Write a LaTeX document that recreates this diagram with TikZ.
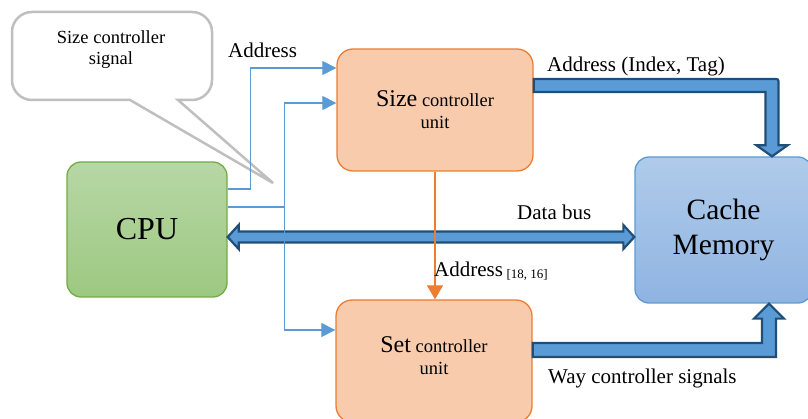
\documentclass[tikz,border=0pt]{standalone}
\usepackage{fontspec}
\setmainfont{Liberation Serif}
\usetikzlibrary{arrows.meta,calc}
\definecolor{uc}{RGB}{248,203,173}
\definecolor{ud}{RGB}{237,125,49}
\definecolor{gt}{RGB}{183,215,165}
\definecolor{gb}{RGB}{157,200,129}
\definecolor{gd}{RGB}{112,173,71}
\definecolor{bt}{RGB}{176,203,234}
\definecolor{bb}{RGB}{143,180,226}
\definecolor{bd}{RGB}{91,155,213}
\definecolor{ad}{RGB}{31,78,121}
\definecolor{cg}{RGB}{191,191,191}
\newcommand{\fsz}[2]{\fontsize{#1}{#2}\selectfont}
\tikzset{unit/.style={draw=ud,fill=uc,line width=1.3pt,rounded corners=16pt,minimum width=196pt,minimum height=122pt,align=center,font=\fsz{18.5}{22}},
 blk/.style={line width=1.3pt,rounded corners=14pt,align=center},
 wire/.style={draw=bd,line width=1.1pt,-{Triangle[length=14pt,width=14pt]}},
 owire/.style={draw=ud,line width=1.3pt,-{Triangle[length=14pt,width=16pt]}},
 bus/.style={draw=ad,fill=bd,line width=2.2pt,line join=miter},
 lab/.style={anchor=base west,inner sep=0pt,font=\fsz{21}{24}}}
\begin{document}
\begin{tikzpicture}[x=1pt,y=-1pt]
\useasboundingbox (0,0) rectangle (808,419);
\coordinate (tip) at (273,183);
\draw[cg,line width=2.5pt,fill=white] (130,100) -- (tip) -- (178,100) [rounded corners=20pt] -- (212,100) -- (212,12) -- (12,12) -- (12,100) [sharp corners] -- (130,100) -- cycle;
\node[font=\fsz{18.5}{21},align=center] (bt) at (111,50) {Size controller\\signal};
\node[blk,draw=gd,top color=gt,bottom color=gb,minimum width=160pt,minimum height=135pt,font=\fsz{32}{36}] (cpu) at (147,229.5) {CPU};
\node[unit] (size) at (435,110) {{\fsz{24}{22}Size} controller\\unit};
\node[unit,text depth=10pt] (set) at (434,361) {{\fsz{24}{22}Set} controller\\unit};
\node[blk,draw=bd,top color=bt,bottom color=bb,minimum width=177pt,minimum height=146pt,font=\fsz{29.5}{35}] (cache) at (723.5,230) {Cache\\Memory};
\coordinate (busL) at ($(cpu.east)+(0,7.5)$);\coordinate (busR) at (cache.west|-busL);
\draw[bus] (busL) -- ++(11,-12) -- ++(0,6.5) -- ($(busR)+(-11,-5.5)$) -- ++(0,-6.5) -- (busR) -- ++(-11,12) -- ++(0,-6.5) -- ($(busL)+(11,5.5)$) -- ++(0,6.5) -- cycle;
\coordinate (ai) at ($(size.east)+(0,-24.5)$);\coordinate (ao) at ($(cache.north)+(48.5,0)$);\coordinate (ak) at ($(ao|-ai)+(6.5,-6.5)$);
\draw[bus] ($(ai)+(0,-6.5)$) -- ($(ak)+(-5,0)$) .. controls (ak) .. ($(ak)+(0,5)$) -- ($(ao)+(6.5,-11)$) -- ($(ao)+(15.5,-11)$) -- (ao) -- ($(ao)+(-15.5,-11)$) -- ($(ao)+(-6.5,-11)$) -- ($(ao|-ai)+(-6.5,6.5)$) -- ($(ai)+(0,6.5)$) -- cycle;
\coordinate (wi) at ($(set.east)+(0,-11)$);\coordinate (wo) at ($(cache.south)+(45.5,0)$);
\draw[bus] ($(wi)+(0,7)$) -- ($(wo|-wi)+(7,7)$) -- ($(wo)+(7,15)$) -- ($(wo)+(15,15)$) -- (wo) -- ($(wo)+(-15,15)$) -- ($(wo)+(-7,15)$) -- ($(wo|-wi)+(-7,-7)$) -- ($(wi)+(0,-7)$) -- cycle;
\draw[wire] ($(cpu.east)+(0,-40.5)$) -- ++(23,0) |- ($(size.west)+(0,-42)$);
\draw[draw=bd,line width=1.1pt] ($(cpu.east)+(0,-22.5)$) -- ++(57,0) coordinate (sp);
\draw[wire] (sp) |- ($(size.west)+(0,-7)$);\draw[wire] (sp) |- ($(set.west)+(0,-31)$);
\draw[owire] (size.south) -- (size.south|-set.north);
\node[lab] (la) at (228,58) {Address};
\node[lab] (lit) at (547,72) {Address (Index, Tag)};
\node[lab] (ld) at (517,220) {Data bus};
\node[lab] (ls) at (434,277) {Address\,{\fsz{13}{15}\raisebox{-2pt}{[18, 16]}}};
\node[lab] (lw) at (548,383) {Way controller signals};
\end{tikzpicture}
\end{document}
